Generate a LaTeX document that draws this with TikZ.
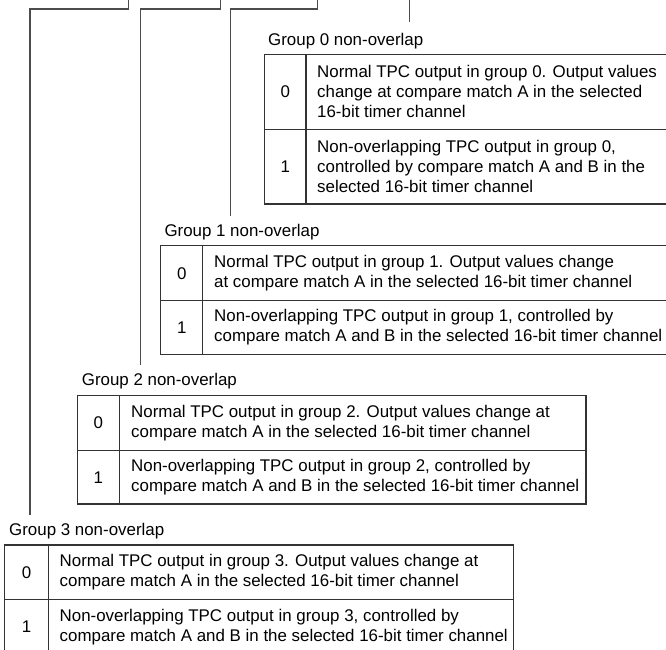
\documentclass[tikz,border=0pt]{standalone}
\usepackage{fontspec}
\setmainfont{Liberation Sans}
\begin{document}
\begin{tikzpicture}[x=1pt,y=-1pt,
  font=\fontsize{16.9}{20}\selectfont,
  tbl/.style={draw=black!80,line width=1.2pt},
  conn/.style={draw=black!70,line width=1.1pt},
  lab/.style={anchor=base west,inner sep=0pt},
  num/.style={inner sep=0pt},
  desc/.style={anchor=west,align=left,inner sep=0pt}]
\useasboundingbox (0,0) rectangle (666,649);
\clip (0,0) rectangle (666,649);

% ---------- Group 0 ----------
\node[lab] (g0lab) at (268,45.7) {Group 0 non-overlap};
\draw[tbl] (264.3,54.3) rectangle (772,204);
\draw[tbl] (306,54.3) -- (306,204);
\draw[tbl] (264.3,129.3) -- (772,129.3);
\node[num] (g0n0) at (285.2,91.8) {0};
\node[num] (g0n1) at (285.2,166.7) {1};
\node[desc] (g0d0) at (317,91.8) {Normal TPC output in group 0. Output values\\change at compare match A in the selected\\16-bit timer channel};
\node[desc] (g0d1) at (317,166.7) {Non-overlapping TPC output in group 0,\\controlled by compare match A and B in the\\selected 16-bit timer channel};

% ---------- Group 1 ----------
\node[lab] (g1lab) at (164.3,236.7) {Group 1 non-overlap};
\draw[tbl] (160.7,245.7) rectangle (668.7,354.3);
\draw[tbl] (202.7,245.7) -- (202.7,354.3);
\draw[tbl] (160.7,300.7) -- (668.7,300.7);
\node[num] (g1n0) at (181.7,273.2) {0};
\node[num] (g1n1) at (181.7,327.5) {1};
\node[desc] (g1d0) at (214,273.2) {Normal TPC output in group 1. Output values change\\at compare match A in the selected 16-bit timer channel};
\node[desc] (g1d1) at (214,327.5) {Non-overlapping TPC output in group 1, controlled by\\compare match A and B in the selected 16-bit timer channel};

% ---------- Group 2 ----------
\node[lab] (g2lab) at (81.7,385.7) {Group 2 non-overlap};
\draw[tbl] (77.3,395.7) rectangle (586,504);
\draw[tbl] (119.3,395.7) -- (119.3,504);
\draw[tbl] (77.3,450.5) -- (586,450.5);
\node[num] (g2n0) at (98.3,423.1) {0};
\node[num] (g2n1) at (98.3,477.3) {1};
\node[desc] (g2d0) at (131,423.1) {Normal TPC output in group 2. Output values change at\\compare match A in the selected 16-bit timer channel};
\node[desc] (g2d1) at (131,477.3) {Non-overlapping TPC output in group 2, controlled by\\compare match A and B in the selected 16-bit timer channel};

% ---------- Group 3 ----------
\node[lab] (g3lab) at (9,535) {Group 3 non-overlap};
\draw[tbl] (4.7,545) rectangle (513.4,654);
\draw[tbl] (48.3,545) -- (48.3,654);
\draw[tbl] (4.7,599.5) -- (513.4,599.5);
\node[num] (g3n0) at (26.5,572.2) {0};
\node[num] (g3n1) at (26.5,626.7) {1};
\node[desc] (g3d0) at (59.5,572.2) {Normal TPC output in group 3. Output values change at\\compare match A in the selected 16-bit timer channel};
\node[desc] (g3d1) at (59.5,626.7) {Non-overlapping TPC output in group 3, controlled by\\compare match A and B in the selected 16-bit timer channel};

% ---------- connectors ----------
\coordinate (t0) at (409.7,-2);
\coordinate (t1) at (317.3,-2);
\coordinate (k1) at (230.3,9);
\coordinate (t2) at (220.7,-2);
\coordinate (k2) at (140.7,9);
\coordinate (t3) at (128.3,-2);
\coordinate (k3) at (30,9);
\draw[conn] (t0) -- ([yshift=11pt]t0 |- g0lab.north);
\draw[conn] (t1) |- (k1) -- ([yshift=8pt]k1 |- g1lab.north);
\draw[conn] (t2) |- (k2) -- ([yshift=8pt]k2 |- g2lab.north);
\draw[conn] (t3) |- (k3) -- ([yshift=8pt]k3 |- g3lab.north);
\end{tikzpicture}
\end{document}
